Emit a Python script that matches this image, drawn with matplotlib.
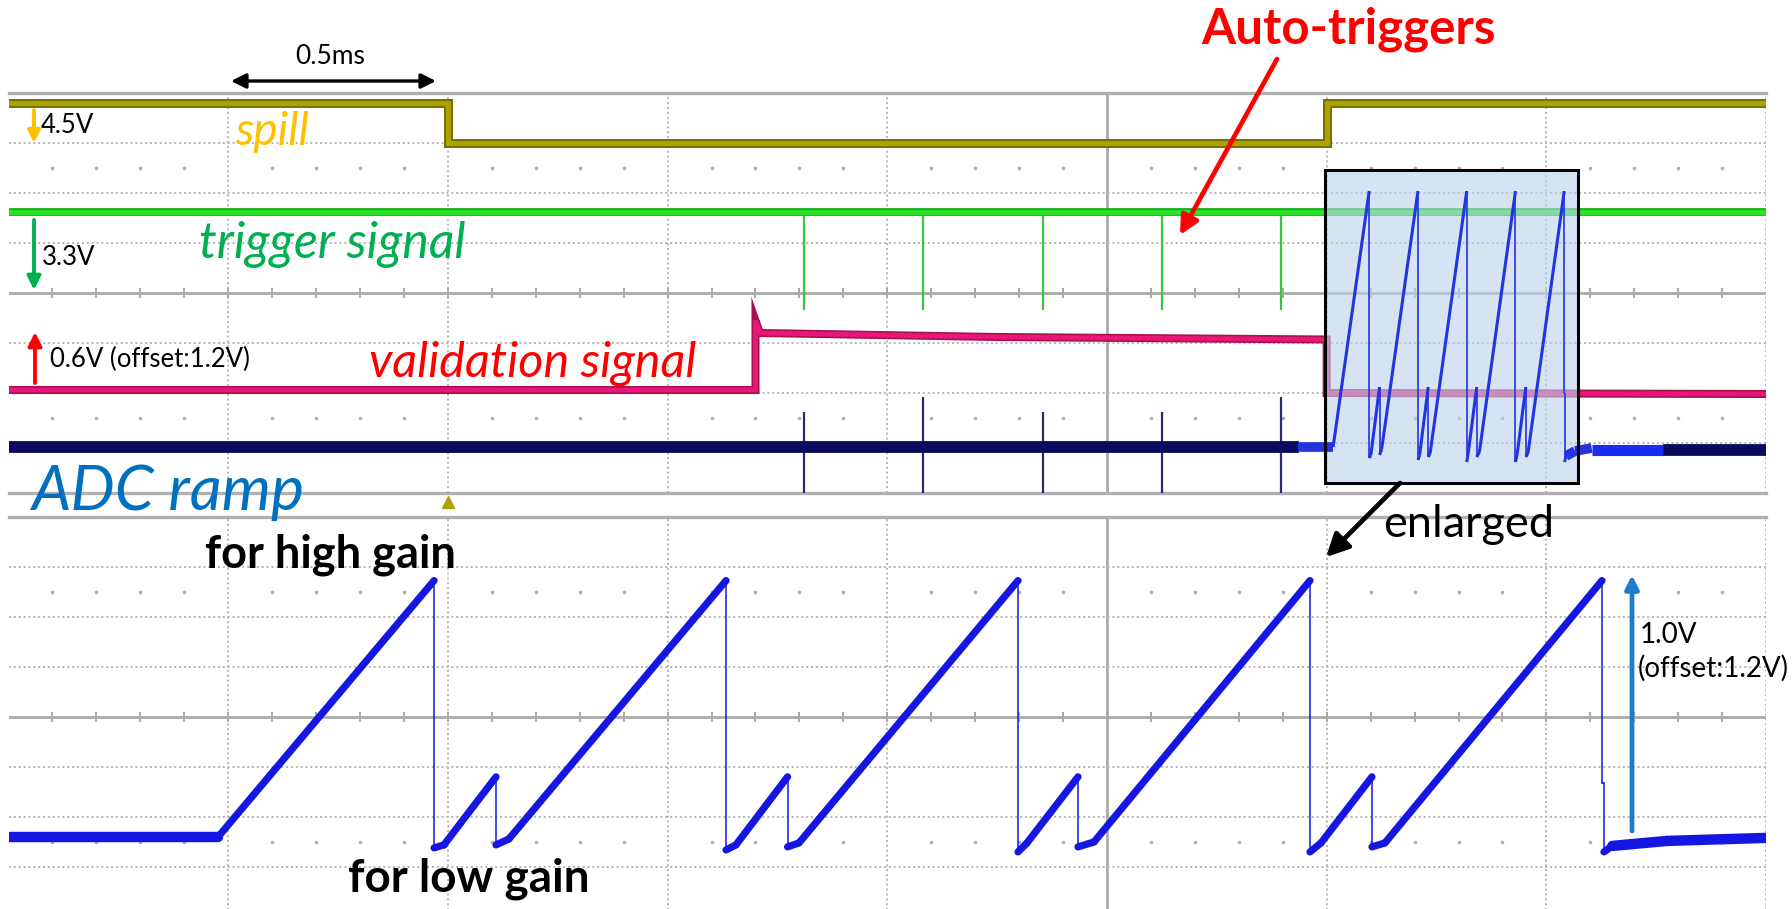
import numpy as np
import matplotlib.pyplot as plt
from matplotlib.collections import LineCollection

plt.rcParams['font.family'] = ['Lato', 'DejaVu Sans']

W, H = 1792, 909

# ---- upper screen, all values in screen divisions (x: time, y: level) ----
spill_t = [0.0, 2.0, 2.0, 6.0, 6.0, 8.0]
spill_v = [7.8, 7.8, 7.0, 7.0, 7.8, 7.8]

trigger_level = 5.62
trigger_pulses = [3.621, 4.163, 4.708, 5.250, 5.792]
trigger_low = 3.66

valid_t = [0.0, 3.40, 3.40, 3.42, 4.5, 6.0, 6.0, 8.0]
valid_v = [2.06, 2.06, 3.45, 3.20, 3.12, 3.07, 2.0, 1.98]

adc_level_before = 0.92
adc_level_after = 0.86
adc_spike_top = [1.62, 1.92, 1.62, 1.62, 1.92]
adc_window = [5.874, 7.53]
trigger_pos = 2.0

# ---- lower screen: enlarged ADC ramp ----
ramp_t = [0.0, 0.954, 1.937, 1.937, 1.982, 2.219, 2.219, 2.278, 3.266, 3.266,
          3.311, 3.546, 3.546, 3.598, 4.595, 4.595, 4.636, 4.868, 4.868, 4.941,
          5.924, 5.924, 5.974, 6.206, 6.206, 6.265, 7.253, 7.253, 7.262, 7.262,
          7.30, 7.55, 8.0]
ramp_v = [1.60, 1.60, 6.72, 1.38, 1.44, 2.80, 1.44, 1.56, 6.72, 1.34,
          1.44, 2.80, 1.40, 1.48, 6.72, 1.30, 1.48, 2.80, 1.40, 1.50,
          6.72, 1.30, 1.48, 2.80, 1.40, 1.48, 6.72, 2.68, 2.68, 1.30,
          1.42, 1.52, 1.58]

# where the enlarged window sits on the upper screen
inset_x0, inset_xscale, inset_dy = 5.87, 0.167, -0.68
box_x = [5.992, 7.144]
box_y = [0.2, 6.46]


def draw_grid(ax):
    ax.set_xlim(0, 8)
    ax.set_ylim(0, 8)
    ax.axis('off')
    g = '#b4b4b4'
    for k in range(1, 9):
        if k == 5:
            ax.axvline(k, color='#aaaaaa', lw=2, zorder=1)
        else:
            ax.axvline(k, color=g, lw=1.4, ls=(0, (1, 1.5)), zorder=1)
    for k in range(1, 8):
        if k == 4:
            ax.axhline(k, color='#aaaaaa', lw=2, zorder=1)
        else:
            ax.axhline(k, color=g, lw=1.4, ls=(0, (1, 1.5)), zorder=1)
    for k in (0, 8):
        ax.axhline(k, color='#b0b0b0', lw=2.4, zorder=1, clip_on=False)
    ticks = np.arange(1, 40) * 0.2
    ax.vlines(ticks, 3.9, 4.1, color='#aaaaaa', lw=1.4, zorder=1)
    minor = [t for i, t in enumerate(ticks, 1) if i % 5]
    for yy in (1.5, 6.5):
        ax.plot(minor, [yy] * len(minor), ls='none', marker='s', ms=1.6,
                color='#b0b0b0', zorder=1)


def ramp_segments(t, v, xs=1.0):
    # 0: fast edge, 1: ramp, 2: long flat baseline
    t = np.asarray(t, float)
    v = np.asarray(v, float)
    pts = np.column_stack([t, v])
    segs = np.stack([pts[:-1], pts[1:]], axis=1)
    dx = np.diff(t) / xs
    dy = np.abs(np.diff(v))
    kind = np.where(dx < 0.02, 0, np.where((dy < 0.3) & (dx > 0.2), 2, 1))
    return segs, kind


fig = plt.figure(figsize=(W / 100, H / 100), dpi=100)
left, width = 8.5 / W, 8 * 219.7 / W
ax1 = fig.add_axes([left, 1 - 493 / H, width, 400 / H])
ax2 = fig.add_axes([left, 1 - 917 / H, width, 400.5 / H])
draw_grid(ax1)
draw_grid(ax2)

# spill
ax1.plot(spill_t, spill_v, color='#7a7200', lw=6.5, zorder=3, solid_joinstyle='miter')
ax1.plot(spill_t, spill_v, color='#aca300', lw=3.5, zorder=3, solid_joinstyle='miter')

# trigger signal
ax1.vlines(trigger_pulses, trigger_low, trigger_level, color='#3cc43c', lw=1.6, zorder=3)
ax1.axhline(trigger_level, color='#16b016', lw=5.6, zorder=3)
ax1.axhline(trigger_level, color='#2ae62a', lw=3.4, zorder=3)

# validation signal
ax1.plot(valid_t, valid_v, color='#a8104f', lw=5.8, zorder=3, solid_joinstyle='miter')
ax1.plot(valid_t, valid_v, color='#e8187a', lw=3.4, zorder=3, solid_joinstyle='miter')

# ADC ramp on the slow timebase
ax1.vlines(trigger_pulses, 0, adc_spike_top, color='#2a2a70', lw=1.6, zorder=3)
ax1.plot([0, adc_window[0]], [adc_level_before] * 2, color='#0a0a5e', lw=8.5, zorder=3,
         solid_capstyle='butt')
ax1.plot([adc_window[1], 8], [adc_level_after] * 2, color='#0a0a5e', lw=8.5, zorder=3,
         solid_capstyle='butt')
tail_start = inset_x0 + inset_xscale * ramp_t[-1]
ax1.plot([tail_start, adc_window[1]], [adc_level_after] * 2, color='#1a2cf0', lw=8,
         zorder=3, solid_capstyle='butt')

# enlarged window
ax1.add_patch(plt.Rectangle((box_x[0], box_y[0]), box_x[1] - box_x[0], box_y[1] - box_y[0],
                            facecolor='#bcd3ec', alpha=0.62, edgecolor='none', zorder=5))
ax1.add_patch(plt.Rectangle((box_x[0], box_y[0]), box_x[1] - box_x[0], box_y[1] - box_y[0],
                            facecolor='none', edgecolor='black', lw=2.2, zorder=7))

it = inset_x0 + inset_xscale * np.array(ramp_t)
iv = np.array(ramp_v) + inset_dy
segs, kind = ramp_segments(it, iv, xs=inset_xscale)
lw_map = {0: 1.2, 1: 2.2, 2: 7.0}
ax1.add_collection(LineCollection(segs, colors='#2233e0', linewidths=[lw_map[k] for k in kind],
                                  capstyle='butt', zorder=6))

# trigger position marker
ax1.plot([trigger_pos], [-0.18], marker='^', ms=8, color='#aaa200', clip_on=False, zorder=4)

# lower screen
segs, kind = ramp_segments(ramp_t, ramp_v)
lw_map = {0: 1.1, 1: 5.2, 2: 7.5}
ax2.add_collection(LineCollection(segs, colors='#1616e2', linewidths=[lw_map[k] for k in kind],
                                  capstyle='round', zorder=3))


def ftext(x, y, s, **kw):
    fig.text(x / W, 1 - y / H, s, va='baseline', **kw)


def farrow(x0, y0, x1, y1, color, lw, ms=18, style='-|>'):
    fig.add_artist(plt.matplotlib.patches.FancyArrowPatch(
        (x0 / W, 1 - y0 / H), (x1 / W, 1 - y1 / H), transform=fig.transFigure,
        arrowstyle=style, color=color, lw=lw, mutation_scale=ms, shrinkA=0, shrinkB=0))


# annotations
ftext(295, 64, '0.5ms', fontsize=19)
farrow(231, 81, 436, 81, 'black', 2.4, ms=22, style='<|-|>')

ftext(1349, 43, 'Auto-triggers', fontsize=35.5, fontweight='bold', color='#ff0000', ha='center')
farrow(1277, 59, 1180, 235, '#ff0000', 3.4, ms=28)

farrow(34, 110, 34, 143, '#ffc000', 2.8, ms=18)
ftext(41, 133, '4.5V', fontsize=18.5)
ftext(235, 145, 'spill', fontsize=33, style='italic', color='#ffc000')

farrow(34, 220, 34, 290, '#00b050', 2.8, ms=20)
ftext(42, 265, '3.3V', fontsize=18.5)
ftext(199, 258, 'trigger signal', fontsize=36, style='italic', color='#00b050')

farrow(35, 383, 35, 332, '#ff0000', 2.8, ms=20)
ftext(50, 367, '0.6V (offset:1.2V)', fontsize=18.5)
ftext(369, 377, 'validation signal', fontsize=35, style='italic', color='#ff0000')

ftext(31, 510, 'ADC ramp', fontsize=45, style='italic', color='#0070c0')
ftext(205, 567, 'for high gain', fontsize=32.5, fontweight='bold')
ftext(348, 892, 'for low gain', fontsize=33, fontweight='bold')

farrow(1400, 483, 1326, 557, 'black', 3.4, ms=34)
ftext(1383, 537, 'enlarged', fontsize=32.5)

farrow(1632, 831, 1632, 575, '#1a7fc8', 3.4, ms=20)
ftext(1640, 643, '1.0V', fontsize=20)
ftext(1638, 677, '(offset:1.2V)', fontsize=20)

fig.savefig('out.png', dpi=100)
